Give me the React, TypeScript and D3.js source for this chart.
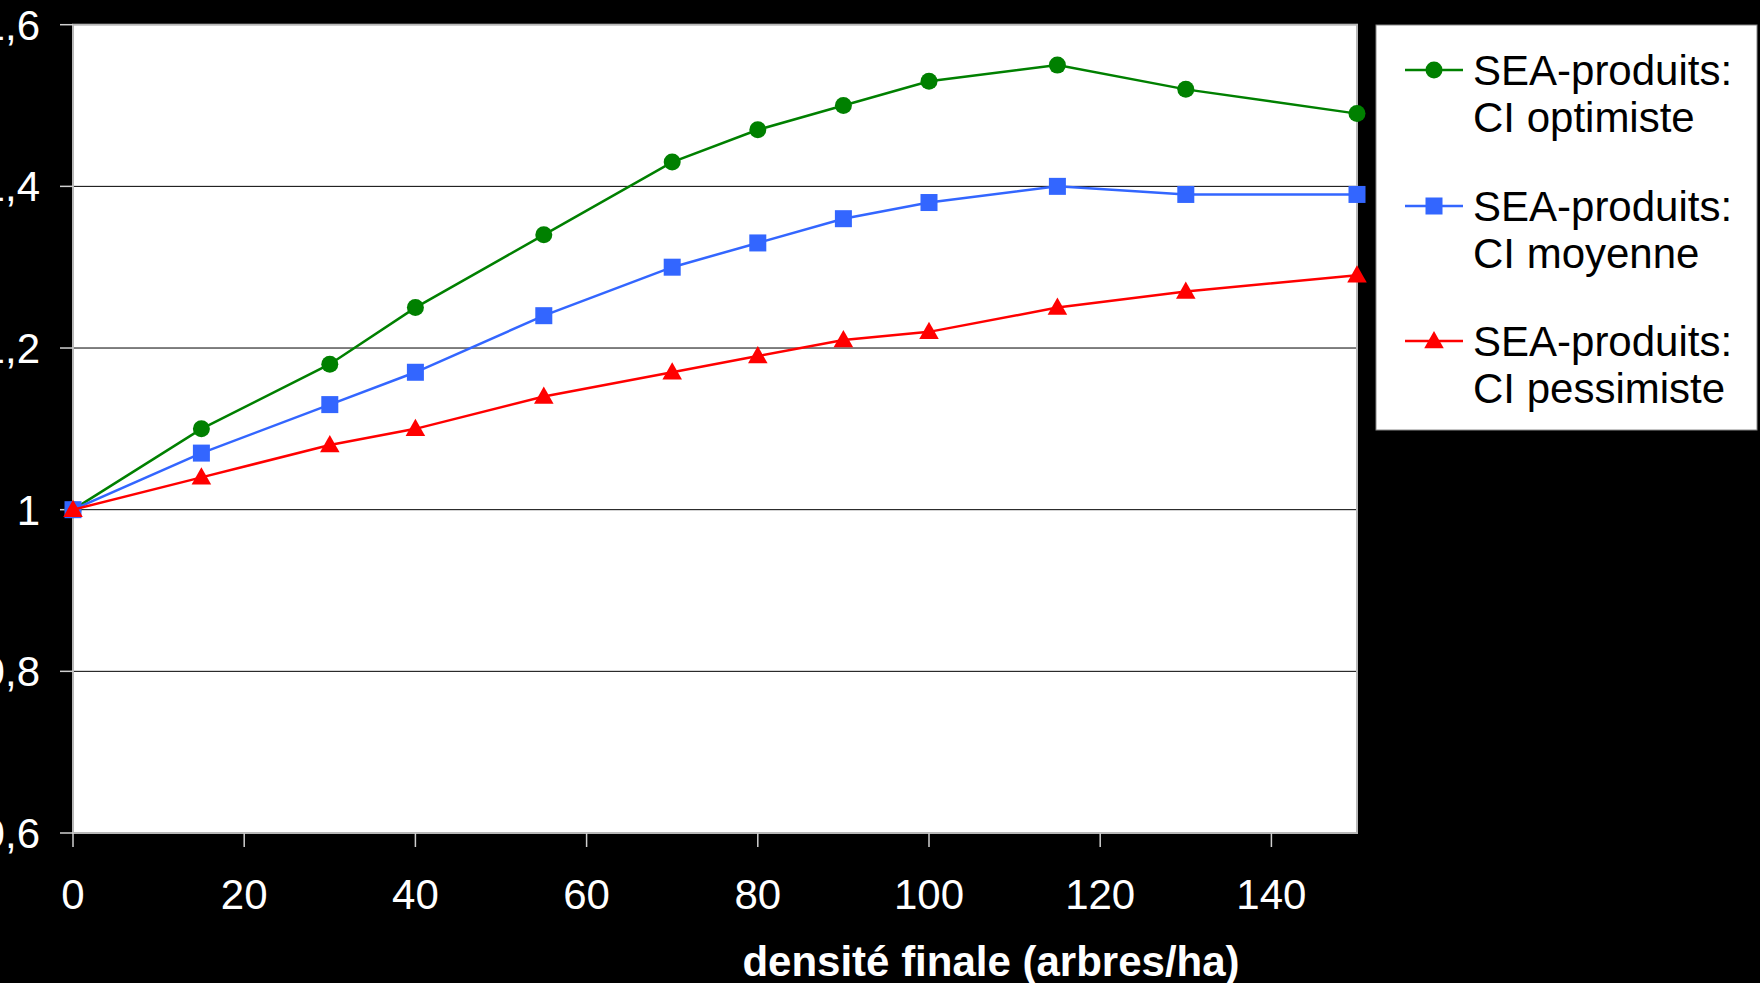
import React from "react";
import * as d3 from "d3";

const xValues = [0, 15, 30, 40, 55, 70, 80, 90, 100, 115, 130, 150];
const optimiste = [1.0, 1.1, 1.18, 1.25, 1.34, 1.43, 1.47, 1.5, 1.53, 1.55, 1.52, 1.49];
const moyenne = [1.0, 1.07, 1.13, 1.17, 1.24, 1.3, 1.33, 1.36, 1.38, 1.4, 1.39, 1.39];
const pessimiste = [1.0, 1.04, 1.08, 1.1, 1.14, 1.17, 1.19, 1.21, 1.22, 1.25, 1.27, 1.29];
const xTicks = [0, 20, 40, 60, 80, 100, 120, 140];
const yTicks = [0.6, 0.8, 1.0, 1.2, 1.4, 1.6];
const yTickLabels = ["0,6", "0,8", "1", "1,2", "1,4", "1,6"];
const seriesNames = [
  ["SEA-produits:", "CI optimiste"],
  ["SEA-produits:", "CI moyenne"],
  ["SEA-produits:", "CI pessimiste"],
];
const xAxisTitle = "densité finale (arbres/ha)";

const W = 1760;
const H = 983;
const L = 73, R = 1357, T = 24.7, B = 833;

const colors = ["#008000", "#3366ff", "#ff0000"];
const shapes = ["circle", "square", "triangle"];

function Marker({ shape, x, y, color, size }: { shape: string; x: number; y: number; color: string; size: number }) {
  if (shape === "circle") return <circle cx={x} cy={y} r={size * 0.5} fill={color} />;
  if (shape === "square")
    return <rect x={x - size * 0.5} y={y - size * 0.5} width={size} height={size} fill={color} />;
  const h = size * 0.95;
  const w = size * 1.15;
  return (
    <path
      d={`M${x},${y - h * 0.62} L${x + w / 2},${y + h * 0.45} L${x - w / 2},${y + h * 0.45} Z`}
      fill={color}
    />
  );
}

export default function App() {
  const x = d3.scaleLinear().domain([0, 150]).range([L, R]);
  const y = d3.scaleLinear().domain([0.6, 1.6]).range([B, T]);
  const all = [optimiste, moyenne, pessimiste];
  const line = d3
    .line<number>()
    .x((_, i) => x(xValues[i]))
    .y((d) => y(d));
  const font = "Liberation Sans, Arial, sans-serif";
  const legendRows = [70, 206, 341];
  return (
    <svg
      width={W}
      height={H}
      style={{ position: "absolute", left: 0, top: 0, background: "#000" }}
      fontFamily={font}
    >
      <rect x={0} y={0} width={W} height={H} fill="#000" />
      <rect x={L} y={T} width={R - L} height={B - T} fill="#fff" />
      {yTicks.slice(1, -1).map((t) => (
        <line key={t} x1={L} x2={R} y1={y(t)} y2={y(t)} stroke="#000" strokeWidth={1} />
      ))}
      <rect x={L} y={T} width={R - L} height={B - T} fill="none" stroke="#b8b8b8" strokeWidth={2} />
      {yTicks.map((t, i) => (
        <g key={t}>
          <line x1={L - 13} x2={L} y1={y(t)} y2={y(t)} stroke="#d0d0d0" strokeWidth={1.5} />
          <text x={40} y={y(t) + 15} textAnchor="end" fill="#fff" fontSize={42}>
            {yTickLabels[i]}
          </text>
        </g>
      ))}
      {xTicks.map((t) => (
        <g key={t}>
          <line x1={x(t)} x2={x(t)} y1={B} y2={B + 14} stroke="#d0d0d0" strokeWidth={1.5} />
          <text x={x(t)} y={909} textAnchor="middle" fill="#fff" fontSize={42}>
            {t}
          </text>
        </g>
      ))}
      <text x={991} y={976} textAnchor="middle" fill="#fff" fontSize={42} fontWeight="bold">
        {xAxisTitle}
      </text>
      {all.map((s, si) => (
        <g key={si}>
          <path d={line(s) || ""} fill="none" stroke={colors[si]} strokeWidth={2.5} />
          {s.map((v, i) => (
            <Marker key={i} shape={shapes[si]} x={x(xValues[i])} y={y(v)} color={colors[si]} size={17} />
          ))}
        </g>
      ))}
      <rect x={1376} y={25} width={381} height={405} fill="#fff" stroke="#888" strokeWidth={1} />
      {seriesNames.map((nm, i) => (
        <g key={i}>
          <line x1={1405} x2={1463} y1={legendRows[i]} y2={legendRows[i]} stroke={colors[i]} strokeWidth={2.5} />
          <Marker shape={shapes[i]} x={1434} y={legendRows[i]} color={colors[i]} size={17} />
          <text x={1473} y={legendRows[i] + 15} fill="#000" fontSize={42}>
            {nm[0]}
          </text>
          <text x={1473} y={legendRows[i] + 62} fill="#000" fontSize={42}>
            {nm[1]}
          </text>
        </g>
      ))}
    </svg>
  );
}
